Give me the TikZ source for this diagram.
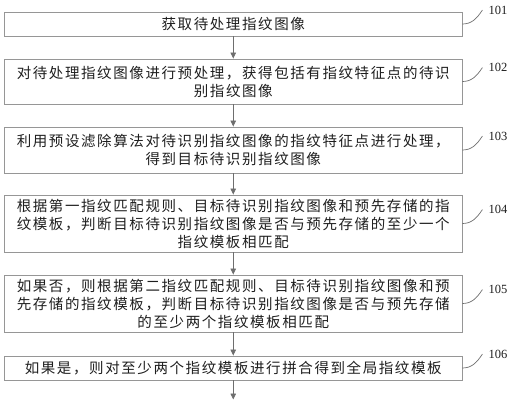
\documentclass[tikz,border=0pt]{standalone}
\usepackage{fontspec}
\newfontfamily\cjk{Noto Sans CJK SC}[LetterSpace=11]
\setmainfont{Liberation Serif}
\usetikzlibrary{arrows.meta}
\definecolor{boxgray}{RGB}{150,150,150}
\definecolor{linegray}{RGB}{110,110,110}
\definecolor{txt}{RGB}{30,30,30}
\tikzset{
  stepbox/.style={draw=boxgray, line width=0.9pt, minimum width=457.5pt, inner sep=0pt,
    align=center, font=\cjk\fontsize{14.5}{18}\selectfont, text=txt},
  flow/.style={draw=linegray, line width=0.8pt, -{Triangle[width=5.5pt,length=6pt]}},
  tag/.style={anchor=west, inner sep=0pt, font=\fontsize{12.5}{14}\selectfont, text=txt},
  lead/.style={draw=linegray, line width=0.7pt}
}
\begin{document}
\begin{tikzpicture}[x=1pt,y=-1pt]
\useasboundingbox (0,0) rectangle (511,400);
\node[stepbox, minimum height=24pt] (b1) at (233.25,24) {获取待处理指纹图像};
\node[stepbox, minimum height=45pt] (b2) at (233.25,81.5) {对待处理指纹图像进行预处理，获得包括有指纹特征点的待识\\别指纹图像};
\node[stepbox, minimum height=46pt] (b3) at (233.25,150) {利用预设滤除算法对待识别指纹图像的指纹特征点进行处理，\\得到目标待识别指纹图像};
\node[stepbox, minimum height=57pt] (b4) at (233.25,223.5) {根据第一指纹匹配规则、目标待识别指纹图像和预先存储的指\\纹模板，判断目标待识别指纹图像是否与预先存储的至少一个\\指纹模板相匹配};
\node[stepbox, minimum height=57pt] (b5) at (233.25,303.5) {如果否，则根据第二指纹匹配规则、目标待识别指纹图像和预\\先存储的指纹模板，判断目标待识别指纹图像是否与预先存储\\的至少两个指纹模板相匹配};
\node[stepbox, minimum height=24pt] (b6) at (233.25,368) {如果是，则对至少两个指纹模板进行拼合得到全局指纹模板};
\coordinate (end) at (233.25,399.5);
\draw[flow] (b1) -- (b2);
\draw[flow] (b2) -- (b3);
\draw[flow] (b3) -- (b4);
\draw[flow] (b4) -- (b5);
\draw[flow] (b5) -- (b6);
\draw[flow] (b6) -- (end);
\foreach \b/\n in {b1/101,b2/102,b3/103,b4/104,b5/105,b6/106}{
  \coordinate (c\n) at ([xshift=20pt,yshift=14pt]\b.east);
  \draw[lead] (\b.east) .. controls +(9,0) and +(-6,9) .. (c\n);
  \node[tag] (t\n) at ([xshift=6pt]c\n) {\n};
}
\end{tikzpicture}
\end{document}
